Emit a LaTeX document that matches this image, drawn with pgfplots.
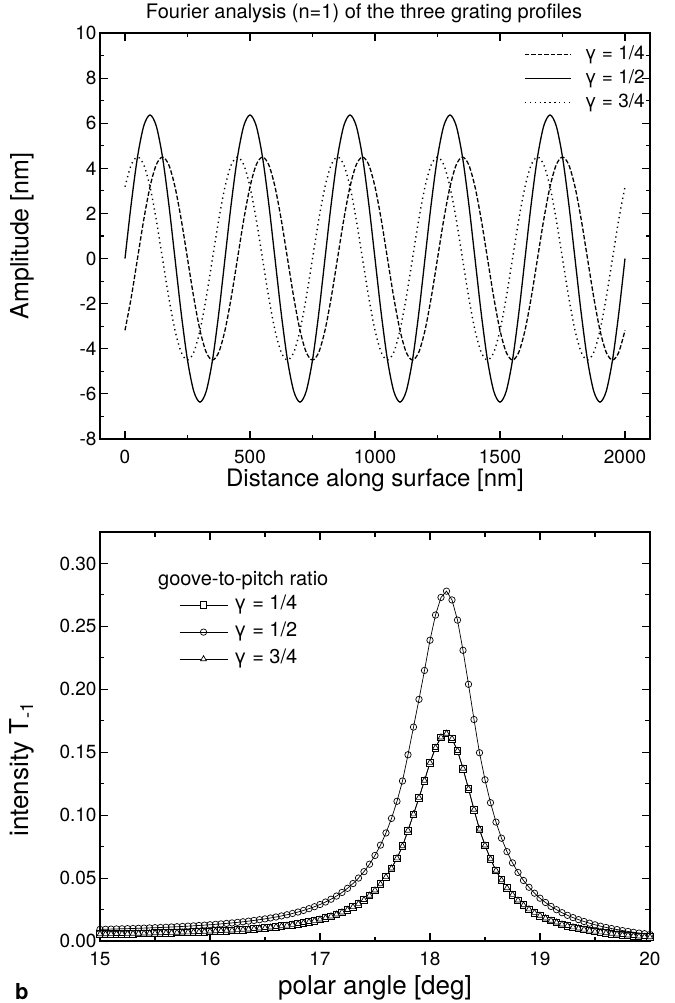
\documentclass[border=0pt]{standalone}
\usepackage{fontspec}
\setmainfont{TeX Gyre Heros}
\usepackage{pgfplots}
\usepackage{pgfplotstable}
\pgfplotsset{compat=1.18}
\newcommand\tickfont{\fontsize{19bp}{22bp}\selectfont}
\newcommand\labfont{\fontsize{24bp}{28bp}\selectfont}

\pgfplotstableread{
x a b c
0 0 -3.182 3.182
25 2.436 -1.722 4.157
50 4.502 0 4.5
75 5.881 1.722 4.157
100 6.366 3.182 3.182
125 5.881 4.157 1.722
150 4.502 4.5 0
175 2.436 4.157 -1.722
200 0 3.182 -3.182
225 -2.436 1.722 -4.157
250 -4.502 0 -4.5
275 -5.881 -1.722 -4.157
300 -6.366 -3.182 -3.182
325 -5.881 -4.157 -1.722
350 -4.502 -4.5 0
375 -2.436 -4.157 1.722
400 0 -3.182 3.182
425 2.436 -1.722 4.157
450 4.502 0 4.5
475 5.881 1.722 4.157
500 6.366 3.182 3.182
525 5.881 4.157 1.722
550 4.502 4.5 0
575 2.436 4.157 -1.722
600 0 3.182 -3.182
625 -2.436 1.722 -4.157
650 -4.502 0 -4.5
675 -5.881 -1.722 -4.157
700 -6.366 -3.182 -3.182
725 -5.881 -4.157 -1.722
750 -4.502 -4.5 0
775 -2.436 -4.157 1.722
800 0 -3.182 3.182
825 2.436 -1.722 4.157
850 4.502 0 4.5
875 5.881 1.722 4.157
900 6.366 3.182 3.182
925 5.881 4.157 1.722
950 4.502 4.5 0
975 2.436 4.157 -1.722
1000 0 3.182 -3.182
1025 -2.436 1.722 -4.157
1050 -4.502 0 -4.5
1075 -5.881 -1.722 -4.157
1100 -6.366 -3.182 -3.182
1125 -5.881 -4.157 -1.722
1150 -4.502 -4.5 0
1175 -2.436 -4.157 1.722
1200 0 -3.182 3.182
1225 2.436 -1.722 4.157
1250 4.502 0 4.5
1275 5.881 1.722 4.157
1300 6.366 3.182 3.182
1325 5.881 4.157 1.722
1350 4.502 4.5 0
1375 2.436 4.157 -1.722
1400 0 3.182 -3.182
1425 -2.436 1.722 -4.157
1450 -4.502 0 -4.5
1475 -5.881 -1.722 -4.157
1500 -6.366 -3.182 -3.182
1525 -5.881 -4.157 -1.722
1550 -4.502 -4.5 0
1575 -2.436 -4.157 1.722
1600 0 -3.182 3.182
1625 2.436 -1.722 4.157
1650 4.502 0 4.5
1675 5.881 1.722 4.157
1700 6.366 3.182 3.182
1725 5.881 4.157 1.722
1750 4.502 4.5 0
1775 2.436 4.157 -1.722
1800 0 3.182 -3.182
1825 -2.436 1.722 -4.157
1850 -4.502 0 -4.5
1875 -5.881 -1.722 -4.157
1900 -6.366 -3.182 -3.182
1925 -5.881 -4.157 -1.722
1950 -4.502 -4.5 0
1975 -2.436 -4.157 1.722
2000 0 -3.182 3.182
}\gratingtable

\pgfplotstableread{
x c s
15.00 0.00926 0.00549
15.05 0.00936 0.00555
15.10 0.00947 0.00562
15.15 0.00959 0.00569
15.20 0.00971 0.00576
15.25 0.00983 0.00583
15.30 0.00997 0.00591
15.35 0.01011 0.00600
15.40 0.01026 0.00608
15.45 0.01042 0.00618
15.50 0.01058 0.00627
15.55 0.01076 0.00638
15.60 0.01095 0.00649
15.65 0.01114 0.00661
15.70 0.01135 0.00673
15.75 0.01158 0.00687
15.80 0.01181 0.00700
15.85 0.01206 0.00715
15.90 0.01233 0.00731
15.95 0.01262 0.00748
16.00 0.01292 0.00766
16.05 0.01325 0.00786
16.10 0.01360 0.00806
16.15 0.01398 0.00829
16.20 0.01438 0.00853
16.25 0.01482 0.00879
16.30 0.01529 0.00907
16.35 0.01580 0.00937
16.40 0.01635 0.00970
16.45 0.01695 0.01005
16.50 0.01759 0.01043
16.55 0.01830 0.01085
16.60 0.01908 0.01131
16.65 0.01993 0.01182
16.70 0.02086 0.01237
16.75 0.02189 0.01298
16.80 0.02303 0.01366
16.85 0.02429 0.01440
16.90 0.02570 0.01524
16.95 0.02725 0.01616
17.00 0.02901 0.01720
17.05 0.03098 0.01837
17.10 0.03320 0.01969
17.15 0.03572 0.02118
17.20 0.03859 0.02288
17.25 0.04188 0.02483
17.30 0.04566 0.02708
17.35 0.05003 0.02967
17.40 0.05511 0.03268
17.45 0.06104 0.03620
17.50 0.06799 0.04032
17.55 0.07619 0.04518
17.60 0.08588 0.05093
17.65 0.09740 0.05776
17.70 0.11102 0.06583
17.75 0.12716 0.07541
17.80 0.14800 0.08776
17.85 0.17000 0.10080
17.90 0.19200 0.11390
17.95 0.21500 0.12750
18.00 0.23900 0.14170
18.05 0.25900 0.15360
18.10 0.27300 0.16190
18.15 0.27800 0.16490
18.20 0.27100 0.16070
18.25 0.25500 0.15120
18.30 0.23100 0.13700
18.35 0.20400 0.12100
18.40 0.17600 0.10440
18.45 0.14960 0.08870
18.50 0.12810 0.07600
18.55 0.10990 0.06520
18.60 0.09450 0.05600
18.65 0.08170 0.04840
18.70 0.07100 0.04210
18.75 0.06210 0.03680
18.80 0.05450 0.03230
18.85 0.04810 0.02850
18.90 0.04270 0.02530
18.95 0.03800 0.02250
19.00 0.03400 0.02020
19.05 0.03060 0.01810
19.10 0.02750 0.01630
19.15 0.02490 0.01480
19.20 0.02250 0.01330
19.25 0.02040 0.01210
19.30 0.01860 0.01100
19.35 0.01700 0.01010
19.40 0.01550 0.00920
19.45 0.01420 0.00840
19.50 0.01290 0.00760
19.55 0.01180 0.00700
19.60 0.01080 0.00640
19.65 0.00990 0.00590
19.70 0.00910 0.00540
19.75 0.00830 0.00490
19.80 0.00760 0.00450
19.85 0.00690 0.00410
19.90 0.00630 0.00370
19.95 0.00580 0.00340
20.00 0.00520 0.00310
}\peaktable

\begin{document}
\begin{tikzpicture}
\pgfplotsset{
  common/.style={
    scale only axis,
    width=550bp,
    tick align=inside,
    major tick length=8bp,
    minor tick length=4.5bp,
    every tick/.style={black, line width=1.1bp},
    axis line style={line width=1.4bp},
    ticklabel style={font=\tickfont},
    xticklabel style={yshift=-8bp},
    /pgf/number format/assume math mode=true,
    /pgf/number format/1000 sep={},
    minor x tick num=1,
    minor y tick num=1,
    label style={font=\labfont},
  },
}
% ---------------- top panel ----------------
\begin{axis}[common,
  at={(0,0)}, anchor=south west,
  height=406bp,
  xmin=-100, xmax=2100, ymin=-8, ymax=10,
  xtick={0,500,1000,1500,2000},
  ytick={-8,-6,-4,-2,0,2,4,6,8,10},
  xlabel={Distance along surface [nm]},
  xlabel style={at={(axis description cs:0.5,-0.1182)}, anchor=base},
  ylabel={Amplitude [nm]},
  ylabel style={at={(axis description cs:-0.1418,0.5)}, anchor=center, font=\fontsize{25bp}{29bp}\selectfont},
  legend style={at={(axis description cs:1,1)}, anchor=north east, xshift=-4bp, yshift=-12bp,
    draw=none, fill=none, inner sep=0pt, font=\tickfont, row sep=5bp, column sep=12bp,
    nodes={inner sep=1bp, text height=13bp, text depth=4bp}},
  legend cell align=left,
  legend image code/.code={\draw[#1] (0bp,0bp) -- (46bp,0bp);},
]
\addplot[black, line width=1.3bp, smooth, dash pattern=on 4.5bp off 2bp] table[x=x, y=b] {\gratingtable};
\addlegendentry{γ = 1/4}
\addplot[black, line width=1.3bp, smooth] table[x=x, y=a] {\gratingtable};
\addlegendentry{γ = 1/2}
\addplot[black, line width=1.4bp, smooth, dash pattern=on 1.3bp off 3.6bp] table[x=x, y=c] {\gratingtable};
\addlegendentry{γ = 3/4}
\node[anchor=base west, font=\bfseries\fontsize{22bp}{26bp}\selectfont, inner sep=0pt] at (axis description cs:-0.1545,-0.150) {a};
\end{axis}
% ---------------- bottom panel ----------------
\begin{axis}[common,
  at={(0,-93bp)}, anchor=north west,
  height=409bp,
  xmin=15, xmax=20, ymin=0, ymax=0.325,
  xtick={15,16,17,18,19,20},
  ytick={0,0.05,0.1,0.15,0.2,0.25,0.3},
  yticklabel style={/pgf/number format/.cd, fixed, fixed zerofill, precision=2},
  clip=false,
  xlabel={polar angle [deg]},
  xlabel style={at={(axis description cs:0.5,-0.132)}, anchor=base, font=\fontsize{26bp}{30bp}\selectfont},
  ylabel={intensity T\textsubscript{-1}},
  ylabel style={at={(axis description cs:-0.1418,0.42)}, anchor=center, font=\fontsize{26bp}{30bp}\selectfont},
  legend style={at={(axis description cs:0.1436,0.845)}, anchor=north west,
    draw=none, fill=none, inner sep=0pt, font=\fontsize{20bp}{24bp}\selectfont, row sep=8bp, column sep=5bp,
    nodes={inner sep=1bp, text height=13bp, text depth=4bp}},
  legend cell align=left,
  legend image code/.code={\draw[mark repeat=2, mark phase=2, #1] plot coordinates {(0bp,0bp) (24bp,0bp) (48bp,0bp)};},
]
\addplot[black, line width=0.7bp, mark=square*, mark size=3.3bp, mark options={fill=white, line width=0.7bp, solid}] table[x=x, y=s] {\peaktable};
\addlegendentry{γ = 1/4}
\addplot[black, line width=0.7bp, mark=o, mark size=3.2bp, mark options={fill=white, line width=0.7bp, solid}] table[x=x, y=c] {\peaktable};
\addlegendentry{γ = 1/2}
\addplot[black, line width=0.7bp, mark=triangle*, mark size=3.4bp, mark options={fill=white, line width=0.7bp, solid}] table[x=x, y=s] {\peaktable};
\addlegendentry{γ = 3/4}
\node[anchor=west, inner sep=0pt, font=\fontsize{20bp}{24bp}\selectfont] at (axis description cs:0.1055,0.8826) {goove-to-pitch ratio};
\node[anchor=base west, font=\bfseries\fontsize{22bp}{26bp}\selectfont, inner sep=0pt] at (axis description cs:-0.1545,-0.1418) {b};
\end{axis}
\node[anchor=base, inner sep=0pt, font=\fontsize{20bp}{24bp}\selectfont] at (264bp,420bp) {Fourier analysis (n=1) of the three grating profiles};
\pgfresetboundingbox
\path[use as bounding box] (-100bp,-564bp) rectangle (575bp,439bp);
\end{tikzpicture}
\end{document}
